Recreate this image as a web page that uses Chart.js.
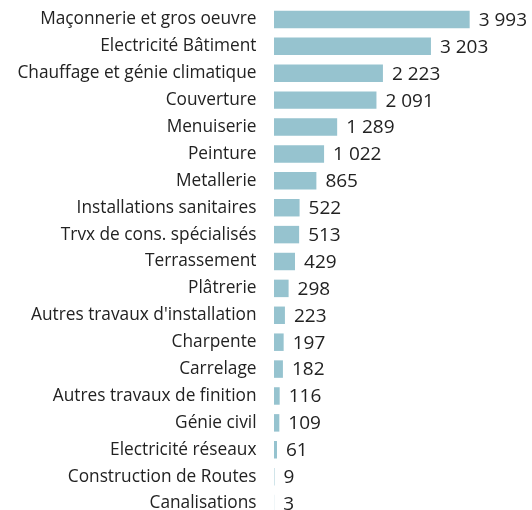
<!DOCTYPE html>
<html>
<head>
<meta charset="utf-8">
<script src="https://cdn.jsdelivr.net/npm/chart.js@4"></script>
<style>
  html, body { margin: 0; padding: 0; background: #fff; overflow: hidden; }
  canvas { display: block; }
</style>
</head>
<body>
<canvas id="chart" width="532" height="517"></canvas>
<script>
// données
const categories = [
  "Maçonnerie et gros oeuvre",
  "Electricité Bâtiment",
  "Chauffage et génie climatique",
  "Couverture",
  "Menuiserie",
  "Peinture",
  "Metallerie",
  "Installations sanitaires",
  "Trvx de cons. spécialisés",
  "Terrassement",
  "Plâtrerie",
  "Autres travaux d'installation",
  "Charpente",
  "Carrelage",
  "Autres travaux de finition",
  "Génie civil",
  "Electricité réseaux",
  "Construction de Routes",
  "Canalisations"
];
const values = [3993, 3203, 2223, 2091, 1289, 1022, 865, 522, 513, 429, 298, 223, 197, 182, 116, 109, 61, 9, 3];

const xMax = 5000;

function formatNum(v) {
  return String(v).replace(/\B(?=(\d{3})+(?!\d))/g, " ");
}

// étiquettes de valeur à droite des barres
const valueLabels = {
  id: "valueLabels",
  afterDatasetsDraw(chart) {
    const c = chart.ctx;
    const meta = chart.getDatasetMeta(0);
    c.save();
    c.font = '19px "Open Sans"';
    c.fillStyle = "#222";
    c.textAlign = "left";
    c.textBaseline = "middle";
    meta.data.forEach(function (bar, i) {
      c.fillText(formatNum(values[i]), bar.x + 9, bar.y + 1);
    });
    c.restore();
  }
};

const ctx = document.getElementById("chart").getContext("2d");
new Chart(ctx, {
  type: "bar",
  data: {
    labels: categories,
    datasets: [{
      data: values,
      backgroundColor: "rgb(150,195,207)",
      barPercentage: 0.65,
      categoryPercentage: 1
    }]
  },
  options: {
    indexAxis: "y",
    responsive: false,
    animation: false,
    layout: { padding: { top: 6, right: 13, left: 0, bottom: 0 } },
    plugins: {
      legend: { display: false },
      tooltip: { enabled: false }
    },
    scales: {
      x: {
        display: false,
        min: 0,
        max: xMax
      },
      y: {
        grid: { display: false, drawTicks: false },
        border: { display: false },
        ticks: {
          padding: 17.5,
          color: "#222",
          font: { family: "Open Sans", size: 17.3 }
        },
        afterFit(scale) {
          scale.width = 274;
          scale.paddingTop = 0;
          scale.paddingBottom = 0;
        }
      }
    }
  },
  plugins: [valueLabels]
});
</script>
</body>
</html>
